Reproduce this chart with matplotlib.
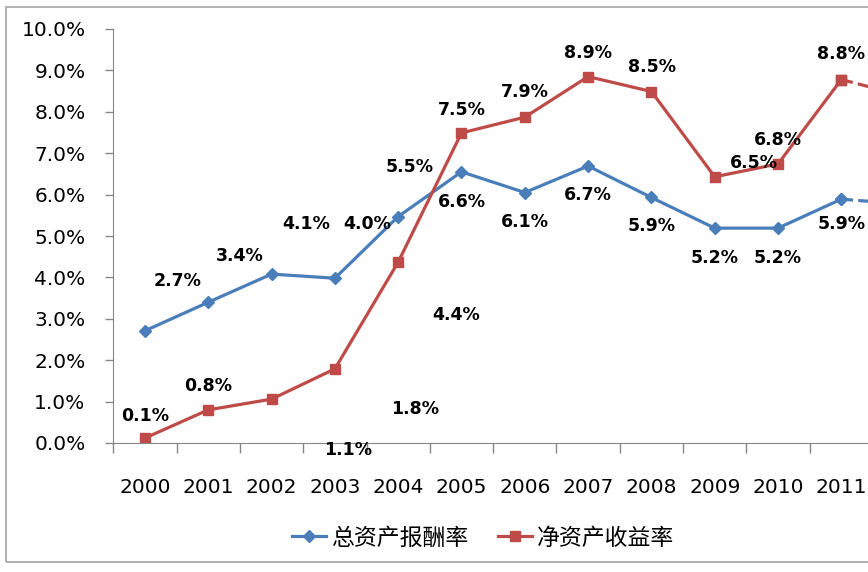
import numpy as np
import matplotlib.pyplot as plt
from matplotlib.patches import Rectangle

plt.rcParams['font.family'] = ['DejaVu Sans', 'Noto Sans CJK SC']

years = ['2000', '2001', '2002', '2003', '2004', '2005', '2006',
         '2007', '2008', '2009', '2010', '2011', '2012']
# 总资产报酬率 (%)
roa = [2.71, 3.40, 4.08, 3.98, 5.47, 6.55, 6.05, 6.69, 5.93, 5.19, 5.19, 5.89, 5.77]
# 净资产收益率 (%)
roe = [0.12, 0.80, 1.06, 1.79, 4.37, 7.49, 7.87, 8.85, 8.49, 6.43, 6.74, 8.78, 8.38]
roa_labels = ['2.7%', '3.4%', '4.1%', '4.0%', '5.5%', '6.6%', '6.1%',
              '6.7%', '5.9%', '5.2%', '5.2%', '5.9%']
roe_labels = ['0.1%', '0.8%', '1.1%', '1.8%', '4.4%', '7.5%', '7.9%',
              '8.9%', '8.5%', '6.5%', '6.8%', '8.8%']
names = ['总资产报酬率', '净资产收益率']

# label offsets in pixels (excel placed them oddly)
roa_off = [(33, 50), (31, 46), (35, 50), (32, 54), (11, 50), (0, -30), (0, -29),
           (0, -29), (0, -29), (0, -30), (0, -30), (0, -25)]
roe_off = [(0, 22), (0, 24), (76, -51), (80, -40), (58, -53), (0, 23), (0, 25),
           (0, 24), (1, 25), (39, 14), (0, 24), (0, 26)]

blue = '#4A7EBB'
red = '#BE4B48'
grey = '#868686'

fig = plt.figure(figsize=(8.68, 5.72), dpi=100)
fig.patches.append(Rectangle((6 / 868, 10 / 572), 1.2, 555 / 572, transform=fig.transFigure,
                             fill=False, edgecolor='#a6a6a6', lw=1.2))
ax = fig.add_axes([113.3 / 868, 129 / 572, 823 / 868, 414 / 572])

x = np.arange(len(years))
n = len(roa_labels)

ax.plot(x[:n], roa[:n], color=blue, lw=2.3, marker='D', ms=6.5, label=names[0])
ax.plot(x[n - 1:], roa[n - 1:], color=blue, lw=2.3, ls='--', marker='D', ms=6.5)
ax.plot(x[:n], roe[:n], color=red, lw=2.3, marker='s', ms=7.5, label=names[1])
ax.plot(x[n - 1:], roe[n - 1:], color=red, lw=2.3, ls='--', marker='s', ms=7.5)

for i in range(n):
    ax.annotate(roa_labels[i], (x[i], roa[i]), xytext=roa_off[i], textcoords='offset pixels',
                ha='center', va='center', fontsize=12.5, fontweight='bold')
    ax.annotate(roe_labels[i], (x[i], roe[i]), xytext=roe_off[i], textcoords='offset pixels',
                ha='center', va='center', fontsize=12.5, fontweight='bold')

ax.set_xlim(-0.5, len(years) - 0.5)
ax.set_ylim(0, 10)
ax.set_yticks(np.arange(0, 10.5, 1))
ax.set_yticklabels(['%.1f%%' % v for v in np.arange(0, 10.5, 1)], fontsize=14.5)
ax.set_xticks(np.arange(-0.5, len(years), 1))
ax.set_xticklabels([])
ax.set_xticks(x, minor=True)
ax.set_xticklabels(years, minor=True, fontsize=14.5)
ax.tick_params(axis='x', which='major', length=7, color=grey, width=1)
ax.tick_params(axis='x', which='minor', length=0, pad=25)
ax.tick_params(axis='y', length=6, color=grey, width=1, pad=14)

for s in ['top', 'right']:
    ax.spines[s].set_visible(False)
for s in ['left', 'bottom']:
    ax.spines[s].set_color(grey)

fig.legend(loc='center', bbox_to_anchor=(483 / 868, 1 - 538 / 572), ncol=2, frameon=False,
           prop={'family': 'Noto Sans CJK SC', 'size': 16.5}, handlelength=1.5,
           handletextpad=0.2, columnspacing=1.3)

fig.savefig('out.png', dpi=100)
